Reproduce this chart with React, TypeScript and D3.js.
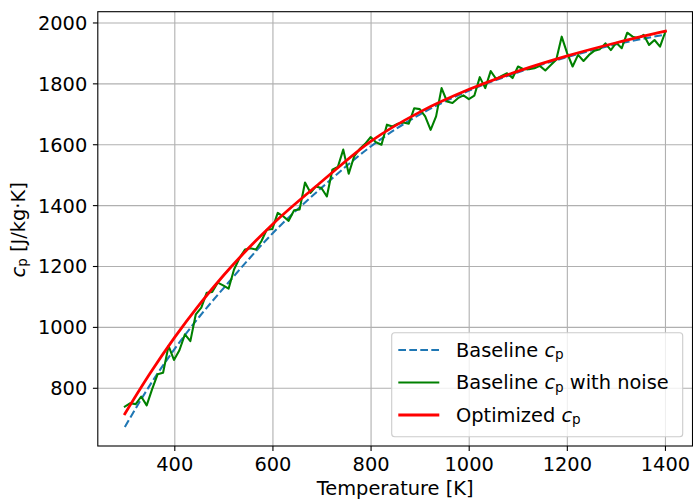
import React from "react";
import * as d3 from "d3";

// Temperature grid of the noisy measurement series [K]
const noisyTemps = [
  298.2, 309.3, 320.4, 331.5, 342.7, 353.8, 364.9, 376.1, 387.2, 398.3,
  409.4, 420.6, 431.7, 442.8, 454.0, 465.1, 476.2, 487.4, 498.5, 509.6,
  520.7, 531.9, 543.0, 554.1, 565.3, 576.4, 587.5, 598.6, 609.8, 620.9,
  632.0, 643.2, 654.3, 665.4, 676.6, 687.7, 698.8, 709.9, 721.1, 732.2,
  743.3, 754.5, 765.6, 776.7, 787.9, 799.0, 810.1, 821.2, 832.4, 843.5,
  854.6, 865.8, 876.9, 888.0, 899.2, 910.3, 921.4, 932.5, 943.7, 954.8,
  965.9, 977.1, 988.2, 999.3, 1010.4, 1021.6, 1032.7, 1043.8, 1055.0, 1066.1,
  1077.2, 1088.4, 1099.5, 1110.6, 1121.7, 1132.9, 1144.0, 1155.1, 1166.3, 1177.4,
  1188.5, 1199.6, 1210.8, 1221.9, 1233.0, 1244.2, 1255.3, 1266.4, 1277.6, 1288.7,
  1299.8, 1310.9, 1322.1, 1333.2, 1344.3, 1355.5, 1366.6, 1377.7, 1388.9, 1400.0,
];

// Baseline cp with noise [J/kg·K]
const noisyCp = [
  740, 751, 748, 773, 744, 797, 846, 851, 939, 893,
  925, 977, 955, 1043, 1065, 1114, 1116, 1147, 1138, 1127,
  1190, 1228, 1256, 1260, 1256, 1283, 1321, 1323, 1376, 1365,
  1350, 1385, 1387, 1476, 1442, 1463, 1458, 1430, 1518, 1527,
  1584, 1505, 1562, 1586, 1603, 1625, 1608, 1600, 1666, 1660,
  1669, 1673, 1669, 1720, 1717, 1693, 1649, 1693, 1786, 1742,
  1737, 1753, 1762, 1750, 1761, 1822, 1786, 1842, 1816, 1826,
  1835, 1819, 1857, 1848, 1848, 1851, 1859, 1844, 1862, 1879,
  1955, 1901, 1857, 1895, 1875, 1895, 1909, 1914, 1933, 1911,
  1935, 1917, 1968, 1955, 1950, 1961, 1928, 1944, 1922, 1972,
];

// Smooth curves sampled at these temperatures [K]
const curveTemps = [298.15, 350, 400, 450, 500, 600, 700, 800, 900, 1000, 1100, 1200, 1300, 1400];
const baselineCp = [673, 812, 930, 1035, 1130, 1310, 1460, 1595, 1700, 1778, 1838, 1888, 1930, 1962];
const optimizedCp = [716, 850, 968, 1075, 1172, 1340, 1480, 1612, 1708, 1782, 1842, 1892, 1935, 1973];

const xTicks = [400, 600, 800, 1000, 1200, 1400];
const yTicks = [800, 1000, 1200, 1400, 1600, 1800, 2000];

const W = 693;
const H = 499;
const left = 97.8;
const right = 692.5;
const top = 11.7;
const bottom = 446;

const FONT = "'DejaVu Sans', 'Liberation Sans', sans-serif";
const FS = 19.4;
const SUB = FS * 0.7;
const SUB_DY = 2.6;

type Pt = [number, number];

export default function App() {
  const x = d3.scaleLinear().domain([243.06, 1455.1]).range([left, right]);
  const y = d3.scaleLinear().domain([610.4, 2037]).range([bottom, top]);

  const straight = d3
    .line<Pt>()
    .x((d) => x(d[0]))
    .y((d) => y(d[1]));
  const smooth = d3
    .line<Pt>()
    .x((d) => x(d[0]))
    .y((d) => y(d[1]))
    .curve(d3.curveMonotoneX);

  const noisy: Pt[] = noisyTemps.map((t, i) => [t, noisyCp[i]]);
  const base: Pt[] = curveTemps.map((t, i) => [t, baselineCp[i]]);
  const opt: Pt[] = curveTemps.map((t, i) => [t, optimizedCp[i]]);

  const grid = "#b0b0b0";
  const tickLen = 4.9;

  const cpLabel = (prefix: string, suffix: string) => (
    <>
      {prefix}
      <tspan fontStyle="italic">c</tspan>
      <tspan fontSize={SUB} dy={SUB_DY}>p</tspan>
      <tspan dy={-SUB_DY}>{suffix}</tspan>
    </>
  );

  const legendRows = [
    { label: cpLabel("Baseline ", ""), color: "#1f77b4", width: 2.08, dash: "7.7,3.3" },
    { label: cpLabel("Baseline ", " with noise"), color: "#008000", width: 2.08, dash: undefined },
    { label: cpLabel("Optimized ", ""), color: "#ff0000", width: 2.78, dash: undefined },
  ];

  return (
    <svg
      width={W}
      height={H}
      style={{ position: "absolute", left: 0, top: 0, background: "#fff" }}
      fontFamily={FONT}
    >
      <defs>
        <clipPath id="plot-area">
          <rect x={left} y={top} width={right - left} height={bottom - top} />
        </clipPath>
      </defs>

      {/* grid */}
      <g stroke={grid} strokeWidth={1.1}>
        {xTicks.map((t) => (
          <line key={`gx${t}`} x1={x(t)} x2={x(t)} y1={top} y2={bottom} />
        ))}
        {yTicks.map((t) => (
          <line key={`gy${t}`} x1={left} x2={right} y1={y(t)} y2={y(t)} />
        ))}
      </g>

      {/* series */}
      <g clipPath="url(#plot-area)" fill="none">
        <path d={smooth(base) ?? ""} stroke="#1f77b4" strokeWidth={2.08} strokeDasharray="7.7,3.3" />
        <path
          d={straight(noisy) ?? ""}
          stroke="#008000"
          strokeWidth={2.08}
          strokeLinejoin="round"
          strokeLinecap="square"
        />
        <path
          d={smooth(opt) ?? ""}
          stroke="#ff0000"
          strokeWidth={2.78}
          strokeLinejoin="round"
          strokeLinecap="square"
        />
      </g>

      {/* frame */}
      <rect x={left} y={top} width={right - left} height={bottom - top} fill="none" stroke="#000" strokeWidth={1.1} />

      {/* x axis ticks */}
      <g>
        {xTicks.map((t) => (
          <g key={`tx${t}`}>
            <line x1={x(t)} x2={x(t)} y1={bottom} y2={bottom + tickLen} stroke="#000" strokeWidth={1.1} />
            <text x={x(t)} y={471} textAnchor="middle" fontSize={FS} fill="#000">
              {t}
            </text>
          </g>
        ))}
      </g>

      {/* y axis ticks */}
      <g>
        {yTicks.map((t) => (
          <g key={`ty${t}`}>
            <line x1={left - tickLen} x2={left} y1={y(t)} y2={y(t)} stroke="#000" strokeWidth={1.1} />
            <text x={left - 10.5} y={y(t)} dy="0.36em" textAnchor="end" fontSize={FS} fill="#000">
              {t}
            </text>
          </g>
        ))}
      </g>

      {/* axis labels */}
      <text x={(left + right) / 2} y={495} textAnchor="middle" fontSize={FS} fill="#000">
        Temperature [K]
      </text>
      <text
        transform={`translate(24.5, ${(top + bottom) / 2 + 1}) rotate(-90)`}
        textAnchor="middle"
        fontSize={FS}
        fill="#000"
      >
        <tspan fontStyle="italic">c</tspan>
        <tspan fontSize={SUB} dy={SUB_DY}>p</tspan>
        <tspan dy={-SUB_DY}> [J/kg·K]</tspan>
      </text>

      {/* legend */}
      <g>
        <rect
          x={391.7}
          y={332.7}
          width={291}
          height={104}
          rx={3}
          ry={3}
          fill="#fff"
          fillOpacity={0.8}
          stroke="#cccccc"
          strokeWidth={1.1}
        />
        {legendRows.map((r, i) => {
          const cy = 350 + i * 32.5;
          return (
            <g key={`lg${i}`}>
              <line
                x1={398.3}
                x2={439.3}
                y1={cy}
                y2={cy}
                stroke={r.color}
                strokeWidth={r.width}
                strokeDasharray={r.dash}
              />
              <text x={456} y={cy + 6.6} fontSize={FS} fill="#000">
                {r.label}
              </text>
            </g>
          );
        })}
      </g>
    </svg>
  );
}
